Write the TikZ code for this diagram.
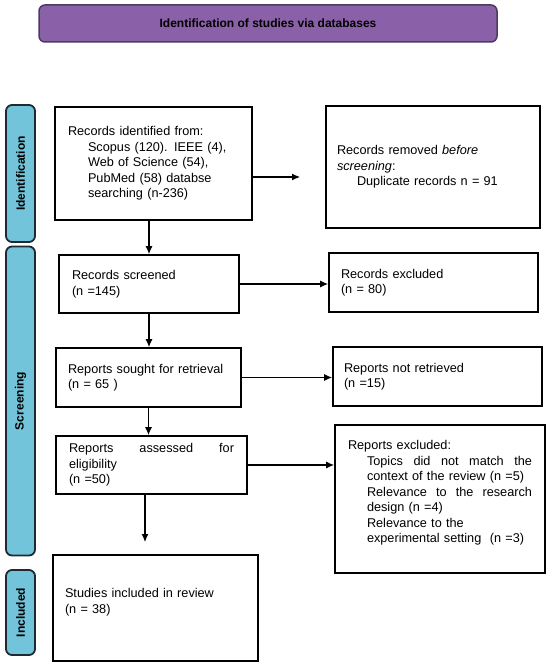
\documentclass[tikz,border=0pt]{standalone}
\usepackage{fontspec}
\setmainfont{Liberation Sans}
\usetikzlibrary{arrows.meta}
\definecolor{titlefill}{HTML}{8A60A8}
\definecolor{titledraw}{HTML}{4B3B5E}
\definecolor{sidefill}{HTML}{72C4DA}
\definecolor{sidedraw}{HTML}{1E2A30}
\begin{document}
\begin{tikzpicture}[x=1pt,y=-1pt,
  box/.style={draw=black, line width=1.8pt, align=left, inner xsep=0pt, inner ysep=0pt,
    font=\fontsize{12.7}{15.5}\selectfont},
  sidebar/.style={draw=sidedraw, fill=sidefill, line width=1.8pt, rounded corners=6pt,
    minimum width=29pt, inner sep=0pt, font=\bfseries\fontsize{12}{14}\selectfont},
  titlebar/.style={draw=titledraw, fill=titlefill, line width=1.5pt, rounded corners=6pt,
    inner sep=0pt, font=\bfseries\fontsize{12}{14}\selectfont},
  arr/.style={draw=black, line width=1.1pt, -{Latex[length=8pt,width=7pt]}}]
\useasboundingbox (0,0) rectangle (550,666);

% title
\node[titlebar, minimum width=458pt, minimum height=37pt] (title) at (268,23.5)
  {Identification of studies via databases};

% side bars
\node[sidebar, minimum height=137pt] (sid) at (20.5,173.5) {\rotatebox{90}{Identification}};
\node[sidebar, minimum height=309pt] (sscr) at (20.5,401) {\rotatebox{90}{Screening}};
\node[sidebar, minimum height=85pt] (sinc) at (20.5,612.5) {\rotatebox{90}{Included}};

% boxes
\node[box, minimum width=197pt, minimum height=113pt, text width=171pt] (b1) at (153.5,163.5)
  {Records identified from:\\
   \hspace*{20pt}Scopus (120). IEEE (4),\\
   \hspace*{20pt}Web of Science (54),\\
   \hspace*{20pt}PubMed (58) databse\\
   \hspace*{20pt}searching (n-236)};

\node[box, minimum width=214pt, minimum height=122pt, text width=192pt] (b2) at (433,167)
  {Records removed \textit{before}\\
   \textit{screening}:\\
   \hspace*{20pt}Duplicate records n = 91};

\node[box, minimum width=180pt, minimum height=58pt, text width=154pt] (b3) at (149,284)
  {Records screened\\(n =145)};

\node[box, minimum width=209pt, minimum height=59pt, text width=185pt] (b4) at (433.5,282.5)
  {Records excluded\\(n = 80)};

\node[box, minimum width=185pt, minimum height=59pt, text width=161pt] (b5) at (148.5,377.5)
  {Reports sought for retrieval\\(n = 65 )};

\node[box, minimum width=209pt, minimum height=59pt, text width=187pt] (b6) at (437.5,376.5)
  {Reports not retrieved\\(n =15)};

\node[box, minimum width=191pt, minimum height=58pt, text width=165pt] (b7) at (151.5,465)
  {Reports\hfill assessed\hfill for\\eligibility\\(n =50)};

\node[box, minimum width=210pt, minimum height=148pt, text width=184pt] (b8) at (440,499)
  {Reports excluded:\\
   \hspace*{19pt}Topics\hfill did\hfill not\hfill match\hfill the\\
   \hspace*{19pt}context of the review (n =5)\\
   \hspace*{19pt}Relevance\hfill to\hfill the\hfill research\\
   \hspace*{19pt}design (n =4)\\
   \hspace*{19pt}Relevance to the\\
   \hspace*{19pt}experimental setting\ \ (n =3)\\[-0.5pt]\mbox{}};

\node[box, minimum width=205pt, minimum height=106pt, text width=181pt] (b9) at (155.5,608)
  {Studies included in review\\(n = 38)\\[-1.5pt]\mbox{}};

% free ends
\coordinate (a12) at (300,177);
\coordinate (a79) at (145,542);

% connectors
\draw[arr] (b1.east |- a12) -- (a12);
\draw[arr] (b3.north |- b1.south) -- (b3.north);
\draw[arr] (b3.east) -- (b4.west |- b3.east);
\draw[arr] (b3.south) -- (b3.south |- b5.north);
\draw[arr] (b5.east) -- (b6.west |- b5.east);
\draw[arr] (b5.south) -- (b5.south |- b7.north);
\draw[arr] (b7.east) -- (b8.west |- b7.east);
\draw[arr] (b7.south -| a79) -- (a79);
\end{tikzpicture}
\end{document}
